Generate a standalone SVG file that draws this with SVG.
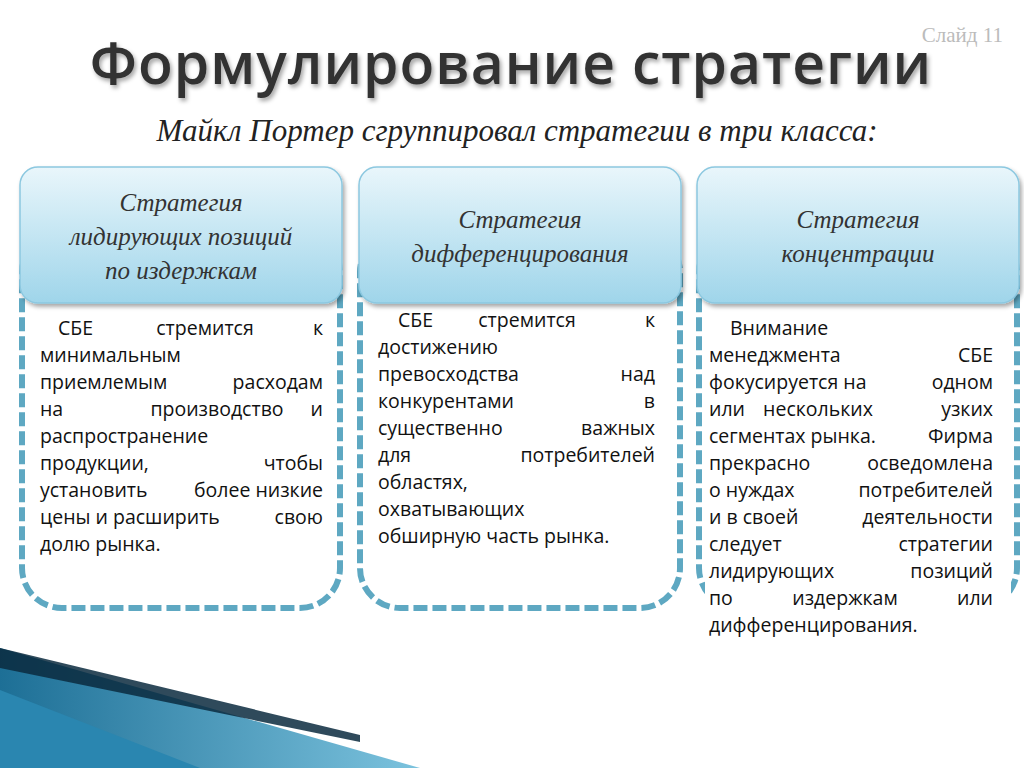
<svg xmlns="http://www.w3.org/2000/svg" width="1024" height="768" viewBox="0 0 1024 768">
<defs>
<linearGradient id="hg" x1="0" y1="0" x2="0" y2="1"><stop offset="0" stop-color="#e9f6fb"/><stop offset="1" stop-color="#9fd5ea"/></linearGradient>
<linearGradient id="bg1" x1="0" y1="0" x2="1" y2="0"><stop offset="0" stop-color="#1d6f96"/><stop offset="1" stop-color="#7cc3de"/></linearGradient>
<filter id="sh"><feDropShadow dx="2" dy="3" stdDeviation="2" flood-color="#000" flood-opacity="0.35"/></filter>
</defs>
<style>
.hd{fill:url(#hg);stroke:#8cc8e0;stroke-width:1.5}
.fr{fill:#fff;stroke:#5ea8c2;stroke-width:6;stroke-dasharray:14 5}
.ht{font-family:"Liberation Serif",serif;font-style:italic;font-size:25px;fill:#333;text-anchor:middle}
.bt{font-family:"Open Sans","DejaVu Sans",sans-serif;font-size:19.5px;fill:#111}
.e{text-anchor:end}.m{text-anchor:middle}
</style>
<rect width="1024" height="768" fill="#fff"/>
<polygon points="0,648 420,768 0,768" fill="url(#bg1)"/>
<polygon points="0,648 360,735 360,742 0,668" fill="#0b2a3e" opacity="0.85"/>
<polygon points="0,690 200,768 0,768" fill="#2a86b0"/>
<text x="1003" y="42" font-family="Liberation Serif,serif" font-size="21" fill="#bbb" text-anchor="end">Слайд 11</text>
<text x="511" y="84" font-family="'Open Sans','DejaVu Sans',sans-serif" font-size="57" font-weight="600" fill="#333" text-anchor="middle" filter="url(#sh)" letter-spacing="1">Формулирование стратегии</text>
<text x="517" y="141" font-family="'Liberation Serif',serif" font-style="italic" font-size="31" fill="#222" text-anchor="middle">Майкл Портер сгруппировал стратегии в три класса:</text>
<g id="n1">
<rect class="fr" x="22" y="232" width="318" height="376" rx="40"/>
<rect class="hd" x="20" y="167" width="322" height="136" rx="18" filter="url(#sh)"/>
<text class="ht" x="181" y="211">Стратегия</text><text class="ht" x="181" y="245">лидирующих позиций</text><text class="ht" x="181" y="279">по издержкам</text>
<g class="bt">
<text x="58" y="335">СБЕ</text><text class="m" x="205" y="335">стремится</text><text class="e" x="323" y="335">к</text>
<text x="40" y="362">минимальным</text>
<text x="40" y="389">приемлемым</text><text class="e" x="323" y="389">расходам</text>
<text x="40" y="416">на</text><text class="m" x="217" y="416">производство</text><text class="e" x="323" y="416">и</text>
<text x="40" y="443">распространение</text>
<text x="40" y="470">продукции,</text><text class="e" x="323" y="470">чтобы</text>
<text x="40" y="497">установить</text><text class="e" x="323" y="497">более низкие</text>
<text x="40" y="524">цены и расширить</text><text class="e" x="323" y="524">свою</text>
<text x="40" y="551">долю рынка.</text>
</g></g>
<g id="n2">
<rect class="fr" x="360" y="232" width="320" height="376" rx="40"/>
<rect class="hd" x="359" y="167" width="322" height="136" rx="18" filter="url(#sh)"/>
<text class="ht" x="520" y="228">Стратегия</text><text class="ht" x="520" y="262">дифференцирования</text>
<g class="bt">
<text x="398" y="327">СБЕ</text><text class="m" x="527" y="327">стремится</text><text class="e" x="655" y="327">к</text>
<text x="378" y="354">достижению</text>
<text x="378" y="381">превосходства</text><text class="e" x="655" y="381">над</text>
<text x="378" y="408">конкурентами</text><text class="e" x="655" y="408">в</text>
<text x="378" y="435">существенно</text><text class="e" x="655" y="435">важных</text>
<text x="378" y="462">для</text><text class="e" x="655" y="462">потребителей</text>
<text x="378" y="489">областях,</text>
<text x="378" y="516">охватывающих</text>
<text x="378" y="543">обширную часть рынка.</text>
</g></g>
<g id="n3">
<rect class="fr" x="699" y="232" width="318" height="376" rx="40"/>
<rect x="705" y="310" width="306" height="340" fill="#fff"/>
<rect class="hd" x="697" y="167" width="322" height="136" rx="18" filter="url(#sh)"/>
<text class="ht" x="858" y="228">Стратегия</text><text class="ht" x="858" y="262">концентрации</text>
<g class="bt">
<text x="730" y="335">Внимание</text>
<text x="709" y="362">менеджмента</text><text class="e" x="993" y="362">СБЕ</text>
<text x="709" y="389">фокусируется на</text><text class="e" x="993" y="389">одном</text>
<text x="709" y="416">или</text><text class="m" x="818" y="416">нескольких</text><text class="e" x="993" y="416">узких</text>
<text x="709" y="443">сегментах рынка.</text><text class="e" x="993" y="443">Фирма</text>
<text x="709" y="470">прекрасно</text><text class="e" x="993" y="470">осведомлена</text>
<text x="709" y="497">о нуждах</text><text class="e" x="993" y="497">потребителей</text>
<text x="709" y="524">и в своей</text><text class="e" x="993" y="524">деятельности</text>
<text x="709" y="551">следует</text><text class="e" x="993" y="551">стратегии</text>
<text x="709" y="578">лидирующих</text><text class="e" x="993" y="578">позиций</text>
<text x="709" y="605">по</text><text class="m" x="845" y="605">издержкам</text><text class="e" x="993" y="605">или</text>
<text x="709" y="632">дифференцирования.</text>
</g></g>
<g id="connectors"/>
</svg>
